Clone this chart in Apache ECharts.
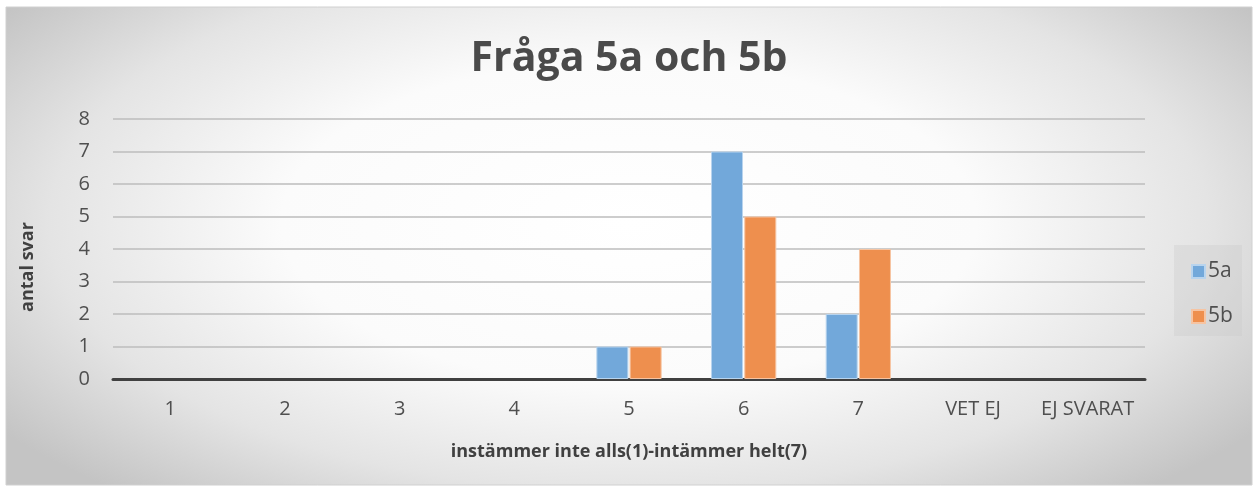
<!DOCTYPE html>
<html>
<head>
<meta charset="utf-8">
<style>
  html, body { margin: 0; padding: 0; background: #ffffff; }
  #frame {
    position: absolute; left: 6px; top: 7px; width: 1246px; height: 478px;
    background: radial-gradient(ellipse 62% 75% at 50% 45%, #ffffff 0%, #fbfbfb 45%, #e4e4e4 75%, #c4c4c4 100%);
  }
  #main { position: absolute; left: 0; top: 0; width: 1258px; height: 489px; }
</style>
<script src="https://cdn.jsdelivr.net/npm/echarts@6/dist/echarts.min.js"></script>
</head>
<body>
<div id="frame"></div>
<div id="main"></div>
<script>
// data
var categories = ['1', '2', '3', '4', '5', '6', '7', 'VET EJ', 'EJ SVARAT'];
var values5a = [0, 0, 0, 0, 1, 7, 2, 0, 0];
var values5b = [0, 0, 0, 0, 1, 5, 4, 0, 0];
var seriesNames = ['5a', '5b'];

var textColor = '#4f4f4f';
var font = 'Open Sans';

// zero bars are not drawn in the original
function noZero(arr) {
    return arr.map(function (v) { return v === 0 ? '-' : v; });
}

var myChart = echarts.init(document.getElementById('main'));

var option = {
    animation: false,
    textStyle: { fontFamily: font },
    graphic: [
        {
            type: 'rect',
            silent: true,
            z: -10,
            shape: { x: 6, y: 7, width: 1246, height: 478 },
            style: { fill: 'transparent', stroke: '#d0d0d0', lineWidth: 1 }
        },
        {
            type: 'rect',
            silent: true,
            z: -5,
            shape: { x: 1174, y: 245, width: 68, height: 91 },
            style: { fill: 'rgba(200,200,200,0.3)' }
        }
    ],
    title: {
        text: 'Fråga 5a och 5b',
        left: 'center',
        top: 34,
        textStyle: {
            fontFamily: font,
            fontSize: 41,
            fontWeight: 'bold',
            color: '#4a4a4a'
        }
    },
    legend: {
        orient: 'vertical',
        left: 1186,
        top: 256,
        itemWidth: 13,
        itemHeight: 13,
        itemGap: 24,
        icon: 'rect',
        data: seriesNames,
        textStyle: { fontSize: 21, color: textColor, padding: [0, 0, 0, -2] }
    },
    grid: {
        left: 113,
        right: 113,
        top: 119,
        bottom: 110,
        containLabel: false
    },
    xAxis: {
        type: 'category',
        data: categories,
        name: 'instämmer inte alls(1)-intämmer helt(7)',
        nameLocation: 'middle',
        nameGap: 64,
        nameTextStyle: { fontSize: 18, fontWeight: 'bold', color: '#404040' },
        axisLine: { lineStyle: { color: '#404040', width: 3 } },
        axisTick: { show: false },
        axisLabel: { fontSize: 20, color: textColor, margin: 20, interval: 0, hideOverlap: false }
    },
    yAxis: {
        type: 'value',
        min: 0,
        max: 8,
        interval: 1,
        name: 'antal svar',
        nameLocation: 'middle',
        nameRotate: 90,
        nameGap: 76,
        nameTextStyle: { fontSize: 18, fontWeight: 'bold', color: '#404040', padding: [0, 36, 0, 0] },
        axisLine: { show: false },
        axisTick: { show: false },
        axisLabel: { fontSize: 20, color: textColor, margin: 23 },
        splitLine: { lineStyle: { color: '#bdbdbd', width: 1.5 } }
    },
    series: [
        {
            name: seriesNames[0],
            type: 'bar',
            data: noZero(values5a),
            barWidth: 32,
            barGap: '4%',
            itemStyle: { color: '#72a8da', borderColor: '#b8d4ee', borderWidth: 1 }
        },
        {
            name: seriesNames[1],
            type: 'bar',
            data: noZero(values5b),
            barWidth: 32,
            itemStyle: { color: '#ee8f4e', borderColor: '#f6c4a2', borderWidth: 1 }
        }
    ]
};

myChart.setOption(option);
</script>
</body>
</html>
